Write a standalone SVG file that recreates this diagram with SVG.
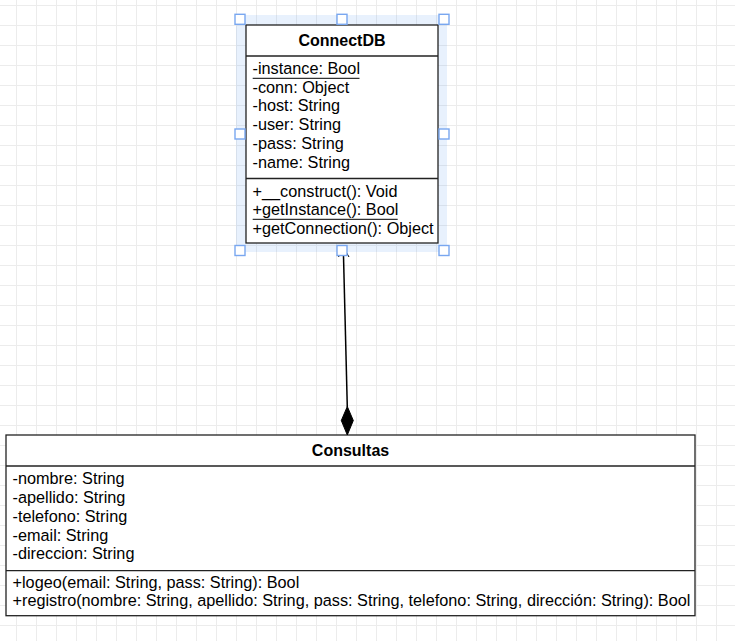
<svg xmlns="http://www.w3.org/2000/svg" width="735" height="641" viewBox="0 0 735 641">
<style>
.t{font-family:"Liberation Sans",Arial,Helvetica,sans-serif;font-size:16.25px;fill:#000}
.b{font-weight:bold;font-size:16px}
.box{fill:#fff;stroke:#222;stroke-width:1.3}
.sep{stroke:#222;stroke-width:1.3;fill:none}
.ul{stroke:#000;stroke-width:1;fill:none}
.h{fill:#fff;stroke:#79a7f0;stroke-width:1.4}
</style>
<defs>
<pattern id="grid" patternUnits="userSpaceOnUse" x="0" y="0" width="20" height="20">
<rect width="20" height="20" fill="#fff"/>
<line x1="16.5" y1="0" x2="16.5" y2="20" stroke="#ececec" stroke-width="1"/>
<line x1="0" y1="5.5" x2="20" y2="5.5" stroke="#ececec" stroke-width="1"/>
</pattern>
</defs>
<rect width="735" height="641" fill="url(#grid)"/>
<rect x="236" y="15" width="211" height="237" fill="#5a9bf0" fill-opacity="0.14"/>
<g id="connectdb">
<rect class="box" x="246" y="25" width="192" height="218"/>
<line class="sep" x1="246" y1="56" x2="438" y2="56"/>
<line class="sep" x1="246" y1="178.5" x2="438" y2="178.5"/>
<text class="t b" x="342" y="46" text-anchor="middle">ConnectDB</text>
<text class="t" x="252.5" y="74">-instance: Bool</text>
<line class="ul" x1="252.7" y1="78.3" x2="359.5" y2="78.3"/>
<text class="t" x="252.5" y="92.7">-conn: Object</text>
<text class="t" x="252.5" y="111.4">-host: String</text>
<text class="t" x="252.5" y="130.1">-user: String</text>
<text class="t" x="252.5" y="148.8">-pass: String</text>
<text class="t" x="252.5" y="167.5">-name: String</text>
<text class="t" x="252.5" y="196.5">+__construct(): Void</text>
<text class="t" x="252.5" y="215.2">+getInstance(): Bool</text>
<line class="ul" x1="252.7" y1="219.3" x2="397.7" y2="219.3"/>
<text class="t" x="252.5" y="233.9">+getConnection(): Object</text>
</g>
<g id="consultas">
<rect class="box" x="6" y="435" width="689" height="180.7"/>
<line class="sep" x1="6" y1="466" x2="695" y2="466"/>
<line class="sep" x1="6" y1="570.7" x2="695" y2="570.7"/>
<text class="t b" x="350.5" y="456" text-anchor="middle">Consultas</text>
<text class="t" x="12.5" y="484.3">-nombre: String</text>
<text class="t" x="12.5" y="503">-apellido: String</text>
<text class="t" x="12.5" y="521.8">-telefono: String</text>
<text class="t" x="12.5" y="540.5">-email: String</text>
<text class="t" x="12.5" y="559.3">-direccion: String</text>
<text class="t" x="12.5" y="587.7">+logeo(email: String, pass: String): Bool</text>
<text class="t" x="12.5" y="606.3">+registro(nombre: String, apellido: String, pass: String, telefono: String, dirección: String): Bool</text>
</g>
<g id="connectors">
<line x1="343.3" y1="248" x2="347.3" y2="407" stroke="#000" stroke-width="1.5"/>
<polyline points="338.5,257 343.3,247 349,257" fill="none" stroke="#000" stroke-width="1"/>
<polygon points="347.3,406.5 353.3,420.5 347.3,435 341.3,420.5" fill="#000" stroke="#000" stroke-width="1"/>
</g>
<g id="selection">
<rect class="h" x="235" y="14.3" width="10" height="10"/>
<rect class="h" x="337" y="14.3" width="10" height="10"/>
<rect class="h" x="439" y="14.3" width="10" height="10"/>
<rect class="h" x="235" y="129" width="10" height="10"/>
<rect class="h" x="439" y="129" width="10" height="10"/>
<rect class="h" x="235" y="245.5" width="10" height="10"/>
<rect class="h" x="337" y="245.5" width="10" height="10"/>
<rect class="h" x="439" y="245.5" width="10" height="10"/>
</g>
</svg>
